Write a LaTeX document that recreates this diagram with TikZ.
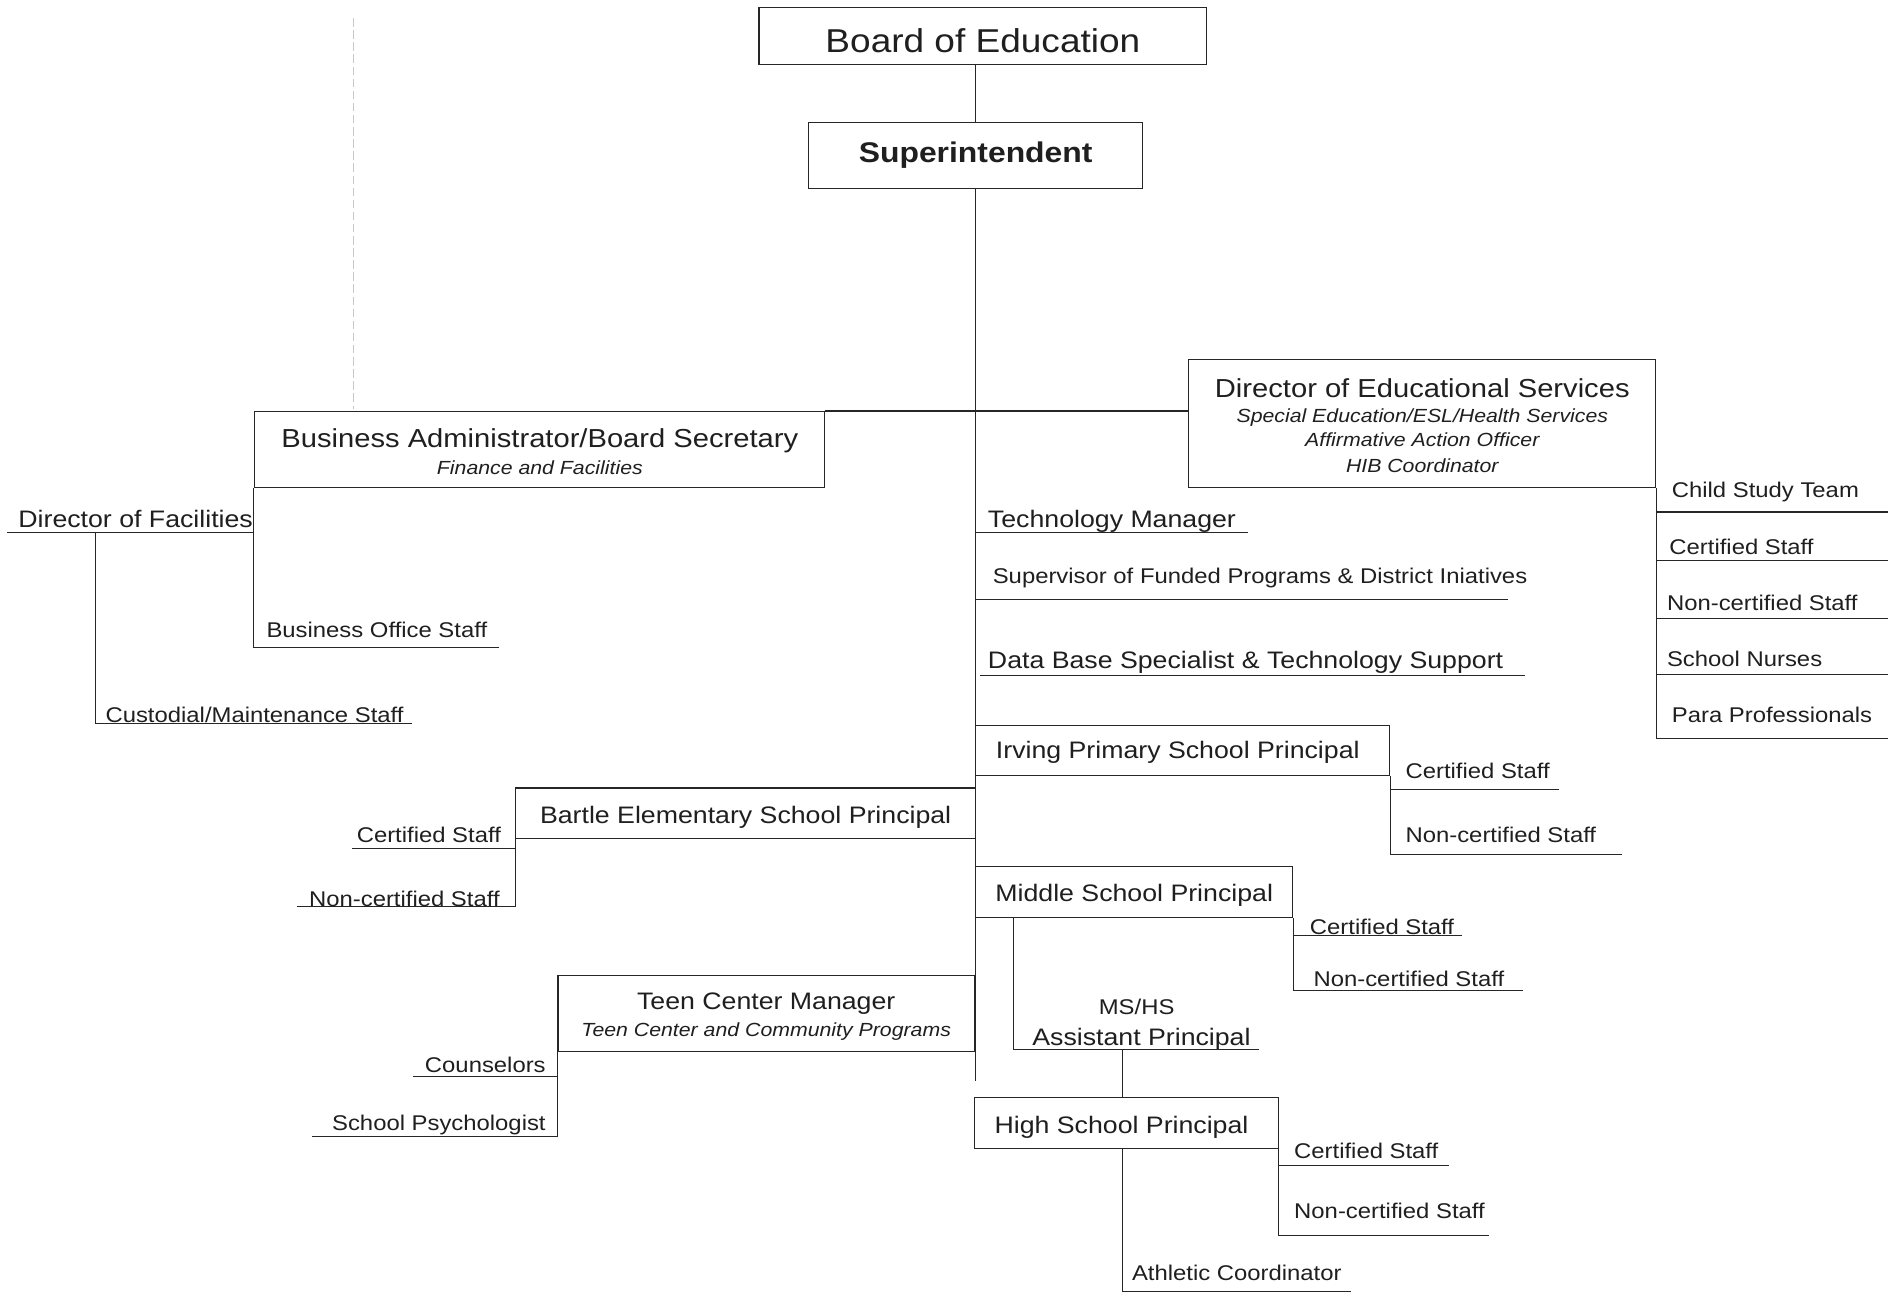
\documentclass[tikz,border=0pt]{standalone}
\usepackage{fontspec}
\setmainfont{Liberation Sans}[FakeStretch=1.12]
\begin{document}
\begin{tikzpicture}[x=1pt,y=-1pt,
  box/.style={draw=black!85, line width=0.9pt, inner sep=0pt},
  ln/.style={draw=black!85, line width=0.9pt},
  txt/.style={inner sep=0pt, text=black!88},
  fboard/.style={txt, font=\fontsize{27.3}{30}\selectfont},
  fsuper/.style={txt, font=\fontsize{23.5}{26}\selectfont\bfseries},
  fbig/.style={txt, font=\fontsize{21.5}{24}\selectfont},
  fmain/.style={txt, font=\fontsize{19.7}{22}\selectfont},
  fstaff/.style={txt, font=\fontsize{17.6}{20}\selectfont},
  fsub/.style={txt, font=\fontsize{15.7}{18}\selectfont\itshape}]
\useasboundingbox (0,0) rectangle (1568,1071);
\fill[white] (0,0) rectangle (1568,1071);

% faint dashed line
\coordinate (dashTop) at (292,15);
\coordinate (dashBot) at (292,338);
\draw[black!22, line width=0.8pt, dash pattern=on 7pt off 3pt] (dashTop) -- (dashBot);

% boxes
\node[box, minimum width=370pt, minimum height=47pt] (board) at (812,29.5) {};
\node[box, minimum width=276pt, minimum height=55pt] (super) at (806,128.5) {};
\node[box, minimum width=471pt, minimum height=63pt] (bus) at (445.5,371.5) {};
\node[box, minimum width=386pt, minimum height=106pt] (des) at (1175,350) {};
\node[box, minimum width=342pt, minimum height=42pt] (irv) at (977,620) {};
\node[box, minimum width=380pt, minimum height=42pt] (bar) at (616,672) {};
\node[box, minimum width=262pt, minimum height=42pt] (mid) at (937,737) {};
\node[box, minimum width=251pt, minimum height=42pt] (high) at (930.5,928) {};
\node[box, minimum width=344pt, minimum height=63pt] (teen) at (633,837.5) {};

% box texts
\node[fboard, anchor=base] (boardT) at (812,43) {Board of Education};
\node[fsuper, anchor=base] (superT) at (806,134) {Superintendent};
\node[fbig, anchor=base] (busT) at (446,370) {Business Administrator/Board Secretary};
\node[fsub, anchor=base] (busS) at (446,392) {Finance and Facilities};
\node[fbig, anchor=base] (desT) at (1175,328) {Director of Educational Services};
\node[fsub, anchor=base] (desS1) at (1175,349) {Special Education/ESL/Health Services};
\node[fsub, anchor=base] (desS2) at (1175,369) {Affirmative Action Officer};
\node[fsub, anchor=base] (desS3) at (1175,390) {HIB Coordinator};
\node[fmain, anchor=base] (irvT) at (973,627) {Irving Primary School Principal};
\node[fmain, anchor=base] (barT) at (616,680) {Bartle Elementary School Principal};
\node[fmain, anchor=base] (midT) at (937,745) {Middle School Principal};
\node[fmain, anchor=base] (highT) at (926.5,936) {High School Principal};
\node[fmain, anchor=base] (teenT) at (633,834) {Teen Center Manager};
\node[fsub, anchor=base] (teenS) at (633,856) {Teen Center and Community Programs};

% underlined labels
\node[fmain, anchor=base west] (tm) at (816,436) {Technology Manager};
\node[fstaff, anchor=base west] (sup) at (820,482) {Supervisor of Funded Programs \& District Iniatives};
\node[fmain, anchor=base west] (db) at (816,552) {Data Base Specialist \& Technology Support};
\node[fmain, anchor=base west] (dof) at (15,436) {Director of Facilities};
\node[fstaff, anchor=base west] (bos) at (220,527) {Business Office Staff};
\node[fstaff, anchor=base west] (cus) at (87,597) {Custodial/Maintenance Staff};
\node[fstaff, anchor=base west] (cst) at (1381,411) {Child Study Team};
\node[fstaff, anchor=base west] (dcs) at (1379,458) {Certified Staff};
\node[fstaff, anchor=base west] (dncs) at (1377,504) {Non-certified Staff};
\node[fstaff, anchor=base west] (dsn) at (1377,551) {School Nurses};
\node[fstaff, anchor=base west] (dpp) at (1381,597) {Para Professionals};
\node[fstaff, anchor=base west] (irvcs) at (1161,643) {Certified Staff};
\node[fstaff, anchor=base west] (irvncs) at (1161,696) {Non-certified Staff};
\node[fstaff, anchor=base east] (barcs) at (414,696) {Certified Staff};
\node[fstaff, anchor=base east] (barncs) at (413,749) {Non-certified Staff};
\node[fstaff, anchor=base west] (midcs) at (1082,772) {Certified Staff};
\node[fstaff, anchor=base west] (midncs) at (1085,815) {Non-certified Staff};
\node[fstaff, anchor=base] (ms) at (939,838) {MS/HS};
\node[fmain, anchor=base] (ap) at (943,864) {Assistant Principal};
\node[fstaff, anchor=base west] (highcs) at (1069,957) {Certified Staff};
\node[fstaff, anchor=base west] (highncs) at (1069,1007) {Non-certified Staff};
\node[fstaff, anchor=base west] (ath) at (935,1058) {Athletic Coordinator};
\node[fstaff, anchor=base east] (cou) at (451,886) {Counselors};
\node[fstaff, anchor=base east] (psy) at (451,934) {School Psychologist};

% line end coordinates
\coordinate (trunkEnd) at (806,893);
\coordinate (tmE) at (1031,440);
\coordinate (supE) at (1246,495);
\coordinate (dbW) at (810,558);
\coordinate (dbE) at (1260,558);
\coordinate (dofW) at (6,440);
\coordinate (dofJ) at (79,440);
\coordinate (bosE) at (412,535);
\coordinate (cusE) at (340,598);
\coordinate (cstE) at (1560,423);
\coordinate (dcsE) at (1560,463);
\coordinate (dncsE) at (1560,511);
\coordinate (dsnE) at (1560,557);
\coordinate (dppE) at (1560,610);
\coordinate (irvcsE) at (1288,652);
\coordinate (irvncsE) at (1340,706);
\coordinate (barcsW) at (291,701);
\coordinate (barncsW) at (245,749);
\coordinate (midcsE) at (1208,773);
\coordinate (midncsE) at (1258,818);
\coordinate (apW) at (837,867);
\coordinate (apE) at (1040,867);
\coordinate (hsJ) at (927,867);
\coordinate (highcsE) at (1197,963);
\coordinate (highncsE) at (1230,1021);
\coordinate (athE) at (1116,1067);
\coordinate (couW) at (341,889);
\coordinate (psyW) at (258,939);

% connectors
\draw[ln] (board.south -| super.north) -- (super.north);
\draw[ln] (super.south) -- (trunkEnd);
\draw[ln] (bus.north east) -- (bus.north east -| des.west);
% business side
\draw[ln] (bus.south west) |- (bosE);
\draw[ln] (dofW) -- (dofW -| bus.west);
\draw[ln] (dofJ) |- (cusE);
% director of educational services
\draw[ln] (des.south east) |- (dppE);
\draw[ln] (des.south east) |- (cstE);
\draw[ln] (des.south east |- dcsE) -- (dcsE);
\draw[ln] (des.south east |- dncsE) -- (dncsE);
\draw[ln] (des.south east |- dsnE) -- (dsnE);
% trunk labels
\draw[ln] (tmE -| super.south) -- (tmE);
\draw[ln] (supE -| super.south) -- (supE);
\draw[ln] (dbW) -- (dbE);
% Irving
\draw[ln] (irv.south east) |- (irvncsE);
\draw[ln] (irv.south east |- irvcsE) -- (irvcsE);
% Bartle
\draw[ln] (bar.south west) |- (barncsW);
\draw[ln] (bar.south west |- barcsW) -- (barcsW);
% Middle
\draw[ln] (mid.south east) |- (midncsE);
\draw[ln] (mid.south east |- midcsE) -- (midcsE);
\draw[ln] (mid.south -| apW) -- (apW) -- (apE);
\draw[ln] (hsJ) -- (hsJ |- high.north);
% High
\draw[ln] (high.south east) |- (highncsE);
\draw[ln] (high.south east |- highcsE) -- (highcsE);
\draw[ln] (hsJ |- high.south) |- (athE);
% Teen
\draw[ln] (teen.south west) |- (psyW);
\draw[ln] (teen.south west |- couW) -- (couW);
\end{tikzpicture}
\end{document}
